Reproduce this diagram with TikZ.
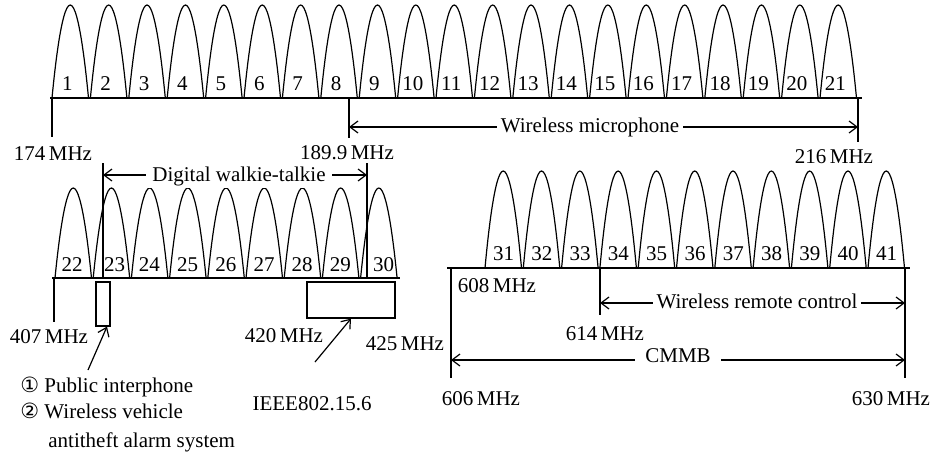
\documentclass[tikz,border=0pt]{standalone}
\usepackage{fontspec}
\setmainfont{Liberation Serif}
\newfontfamily\circfont{DejaVu Sans}
\usetikzlibrary{positioning,arrows.meta}

\begin{document}
\begin{tikzpicture}[x=0.5pt,y=-0.5pt,>={Straight Barb[length=4pt,width=6pt]},
  lobe/.style={line width=0.6pt},
  axis/.style={line width=0.8pt},
  tick/.style={line width=0.6pt},
  lbl/.style={anchor=base,inner sep=0pt,font=\fontsize{10.5}{12}\selectfont},
  span/.style={lbl,fill=white,inner xsep=2pt,inner ysep=1pt},
  band/.style={draw,line width=0.6pt,inner sep=0pt}]
\useasboundingbox (0,0) rectangle (932,455);

% 174--216 MHz
\draw[axis] (50,98) -- (862,98);
\foreach \i in {1,...,21}{
  \pgfmathsetmacro\xa{52+(\i-1)*38.4}
  \draw[lobe] (\xa,98) parabola bend (\xa+18.25,5) (\xa+36.5,98);
  \node[lbl] (c\i) at (\xa+15.25,90) {\i};
}
\coordinate (f174) at (52,98);
\coordinate (f1899) at (349,98);
\coordinate (f216) at (858,98);
\draw[tick] (f174) -- ++(0,39);
\draw[tick] (f1899) -- ++(0,40);
\draw[tick] (f216) -- ++(0,44);
\node[lbl] (l174) at (53,160) {174\,MHz};
\node[lbl] (l1899) at (347,159) {189.9\,MHz};
\node[lbl] (l216) at (834,163) {216\,MHz};
\coordinate (micL) at (349,127);
\coordinate (micR) at (858,127);
\draw[tick,<->] (micL) -- (micR);
\node[span] (mic) at (590,132) {Wireless microphone};

% 407--425 MHz
\draw[axis] (52,278) -- (400,278);
\foreach \k/\dx in {0/17,1/21.5,2/18,3/18,4/18,5/18,6/18,7/18,8/23}{
  \pgfmathsetmacro\xa{55+\k*38.2}
  \pgfmathtruncatemacro\n{22+\k}
  \draw[lobe] (\xa,278) parabola bend (\xa+18.25,188) (\xa+36.5,278);
  \node[lbl] (c\n) at (\xa+\dx,271.5) {\n};
}
\coordinate (wtL) at (103,163);
\coordinate (wtR) at (367,163);
\draw[tick] (wtL) -- ++(0,115);
\draw[tick] (wtR) -- ++(0,115);
\coordinate (wkL) at (103,175);
\coordinate (wkR) at (367,175);
\draw[tick,<->] (wkL) -- (wkR);
\node[span,inner xsep=3pt] (walkie) at (239,181) {Digital walkie-talkie};
\coordinate (f407) at (54,278);
\draw[tick] (f407) -- ++(0,44);
\node[band,minimum width=7pt,minimum height=22pt] (alarm) at (103,304) {};
\node[band,minimum width=44pt,minimum height=18pt] (ieee) at (351,300) {};
\node[lbl] (l407) at (49,343) {407\,MHz};
\node[lbl] (l420) at (284,342) {420\,MHz};
\node[lbl] (l425) at (405,350) {425\,MHz};
\coordinate (alarmTail) at (88,370);
\coordinate (ieeeTail) at (315,362);
\draw[tick,->] (alarmTail) -- ([xshift=2pt]alarm.south);
\draw[tick,->] (ieeeTail) -- (ieee.south);
\node[lbl] (ieeeTxt) at (312,410) {IEEE802.15.6};
\node[lbl,anchor=base west] (note1) at (20,392) {{\circfont ①} Public interphone};
\node[lbl,anchor=base west] (note2) at (20,418) {{\circfont ②} Wireless vehicle};
\node[lbl,anchor=base west] (note3) at (48,447) {antitheft alarm system};

% 606--630 MHz
\draw[axis] (447,268) -- (910,268);
\foreach \k in {0,...,10}{
  \pgfmathsetmacro\xa{485+\k*38.3}
  \pgfmathtruncatemacro\n{31+\k}
  \draw[lobe] (\xa,268) parabola bend (\xa+18.25,171) (\xa+36.5,268);
  \node[lbl] (c\n) at (\xa+18.5,260) {\n};
}
\coordinate (f606) at (451,268);
\coordinate (f614) at (600,268);
\coordinate (f630) at (905,268);
\draw[tick] (f606) -- ++(0,110);
\draw[tick] (f614) -- ++(0,47);
\draw[tick] (f630) -- ++(0,110);
\coordinate (rcL) at (600,303);
\coordinate (rcR) at (905,303);
\draw[tick,<->] (rcL) -- (rcR);
\node[span] (remote) at (757,308) {Wireless remote control};
\coordinate (cmL) at (451,360);
\coordinate (cmR) at (905,360);
\draw[tick,<->] (cmL) -- (cmR);
\node[span,inner xsep=5pt] (cmmb) at (678,362) {CMMB};
\node[lbl] (l608) at (497,292) {608\,MHz};
\node[lbl] (l614) at (605,340) {614\,MHz};
\node[lbl] (l606) at (481,405) {606\,MHz};
\node[lbl] (l630) at (891,405) {630\,MHz};
\end{tikzpicture}
\end{document}
